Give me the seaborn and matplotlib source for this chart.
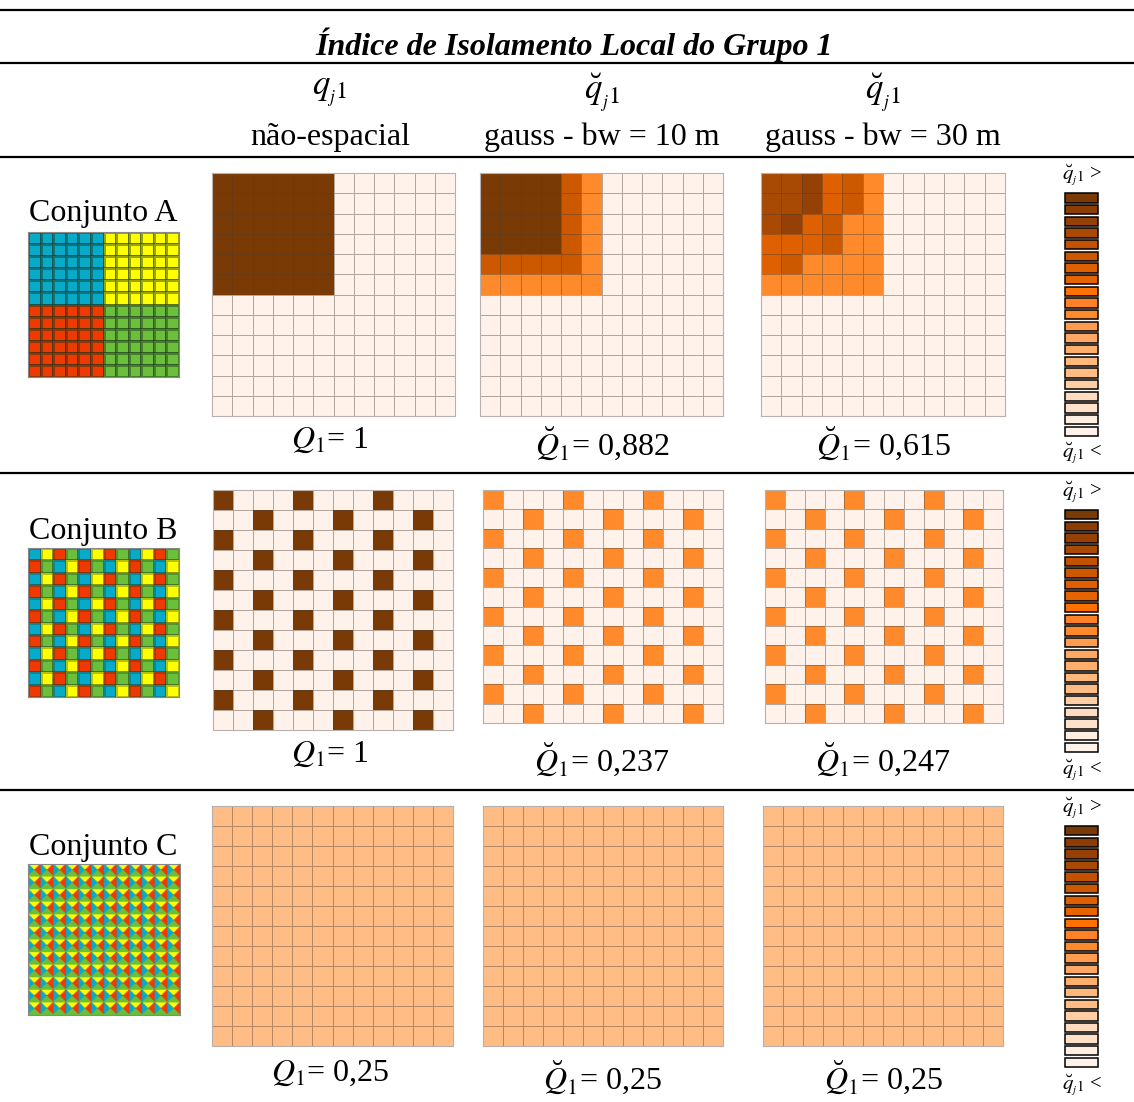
import numpy as np
import seaborn as sns
import matplotlib.pyplot as plt
from matplotlib.colors import ListedColormap
from matplotlib.lines import Line2D

# ---- data ----
# legend classes, from darkest (top) to lightest (bottom)
legend_colors = ['#7a3a06', '#8c3d04', '#954004', '#a94a04', '#c25202', '#cc5800',
                 '#df6000', '#e56400', '#ff7200', '#ff8228', '#ff8a2c', '#ff9c50',
                 '#ffa866', '#ffae6c', '#ffb87c', '#ffbc84', '#ffcea4', '#ffdcc0',
                 '#ffe0c8', '#ffeee2', '#fff2ea']

group_colors = ['#07aac8', '#ffff00', '#ee3a00', '#6bbf3a']  # grupos 1..4

set_names = ['Conjunto A', 'Conjunto B', 'Conjunto C']
col_titles = ['não-espacial', 'gauss - bw = 10 m', 'gauss - bw = 30 m']
col_symbols = [r'$q_{{}_{j}1}$', r'$\breve{q}_{{}_{j}1}$', r'$\breve{q}_{{}_{j}1}$']
q_labels = [['$Q_1$= 1', r'$\breve{Q}_1$= 0,882', r'$\breve{Q}_1$= 0,615'],
            ['$Q_1$= 1', r'$\breve{Q}_1$= 0,237', r'$\breve{Q}_1$= 0,247'],
            ['$Q_1$= 0,25', r'$\breve{Q}_1$= 0,25', r'$\breve{Q}_1$= 0,25']]

background = 0.02  # q_j1 fora do grupo 1 (12x12 celulas)

# conjunto A: bloco 6x6 do canto superior esquerdo
a_nonspatial = [[1.0] * 6 for _ in range(6)]
a_bw10 = [[0.96, 0.96, 0.96, 0.96, 0.74, 0.50],
          [0.96, 0.96, 0.96, 0.96, 0.74, 0.50],
          [0.96, 0.96, 0.96, 0.96, 0.74, 0.50],
          [0.96, 0.96, 0.96, 0.96, 0.74, 0.50],
          [0.74, 0.74, 0.74, 0.74, 0.74, 0.50],
          [0.50, 0.50, 0.50, 0.50, 0.50, 0.50]]
a_bw30 = [[0.83, 0.83, 0.88, 0.69, 0.74, 0.50],
          [0.83, 0.83, 0.88, 0.69, 0.74, 0.50],
          [0.83, 0.88, 0.69, 0.74, 0.50, 0.50],
          [0.69, 0.69, 0.69, 0.74, 0.50, 0.50],
          [0.69, 0.74, 0.50, 0.50, 0.50, 0.50],
          [0.50, 0.50, 0.50, 0.50, 0.50, 0.50]]

# conjunto B: linhas pares / impares
b_even = [1, 0, 0, 0, 1, 0, 0, 0, 1, 0, 0, 0]
b_odd = [0, 0, 1, 0, 0, 0, 1, 0, 0, 0, 1, 0]
b_levels = [1.0, 0.50, 0.50]

# conjunto C: valor constante
c_levels = [0.25, 0.25, 0.25]

# padroes dos conjuntos (codigo do grupo por celula)
pat_a_top = [0] * 6 + [1] * 6
pat_a_bot = [2] * 6 + [3] * 6
pat_b_r0 = [0, 1, 2, 3] * 3
pat_b_r1 = [2, 3, 0, 1] * 3


def block_grid(block):
    g = np.full((12, 12), background)
    b = np.array(block)
    g[:b.shape[0], :b.shape[1]] = b
    return g


def pattern_grid(level):
    rows = [b_even, b_odd] * 6
    g = np.array(rows, dtype=float)
    return np.where(g > 0, level, background)


grids = [[block_grid(a_nonspatial), block_grid(a_bw10), block_grid(a_bw30)],
         [pattern_grid(v) for v in b_levels],
         [np.full((12, 12), v) for v in c_levels]]

# ---- figure ----
sns.set_style('white')
plt.rcParams['font.family'] = ['Liberation Serif', 'DejaVu Serif']
plt.rcParams['mathtext.fontset'] = 'stix'
plt.rcParams['text.color'] = 'black'

W, H = 1134, 1102
fig = plt.figure(figsize=(W / 100, H / 100), dpi=100)


def px_axes(x0, x1, y0, y1):
    return fig.add_axes([x0 / W, 1 - y1 / H, (x1 - x0) / W, (y1 - y0) / H])


def fy(y):
    return 1 - y / H


cmap = ListedColormap(legend_colors[::-1])
line_col = (0.30, 0.24, 0.20, 0.42)
fs = 23

# horizontal rules
for y in [10, 63, 157, 473, 790]:
    fig.add_artist(Line2D([0, 1], [fy(y), fy(y)], color='black', lw=1.6,
                          transform=fig.transFigure))

fig.text(574 / W, fy(45), 'Índice de Isolamento Local do Grupo 1', ha='center', va='center',
         fontsize=23, fontweight='bold', fontstyle='italic')

col_cx = [330, 602, 883]
for cx, sym, title in zip(col_cx, col_symbols, col_titles):
    fig.text(cx / W, fy(93), sym, ha='center', va='center', fontsize=25)
    fig.text(cx / W, fy(137), title, ha='center', va='center', fontsize=fs)

panel_boxes = [[(212, 455, 173, 416), (480, 723, 173, 416), (761, 1005, 173, 416)],
               [(213, 453, 490, 730), (483, 723, 490, 723), (765, 1003, 490, 723)],
               [(212, 453, 806, 1046), (483, 723, 806, 1046), (763, 1003, 806, 1046)]]
label_y = [[440, 444, 444], [754, 760, 760], [1073, 1078, 1078]]
name_y = [213, 531, 847]
pattern_boxes = [(28, 179, 232, 377), (28, 179, 548, 697), (28, 180, 864, 1015)]
legend_boxes = [(1064, 1099, 192, 437), (1064, 1099, 509, 753), (1064, 1099, 825, 1068)]
legend_lbl_y = [(175, 453), (492, 770), (808, 1085)]

for r in range(3):
    # grids of local isolation
    for c in range(3):
        ax = px_axes(*panel_boxes[r][c])
        sns.heatmap(grids[r][c], ax=ax, cmap=cmap, vmin=0, vmax=1, cbar=False,
                    linewidths=0.7, linecolor=line_col, xticklabels=False, yticklabels=False)
        for s in ax.spines.values():
            s.set_visible(True)
            s.set_color('#b8b0ac')
            s.set_linewidth(0.8)
        fig.text(col_cx[c] / W, fy(label_y[r][c]), q_labels[r][c], ha='center', va='center',
                 fontsize=fs)

    # set name and pattern
    fig.text(103 / W, fy(name_y[r]), set_names[r], ha='center', va='center', fontsize=fs)
    ax = px_axes(*pattern_boxes[r])
    gcmap = ListedColormap(group_colors)
    if r == 0:
        pat = np.array([pat_a_top] * 6 + [pat_a_bot] * 6)
        sns.heatmap(pat, ax=ax, cmap=gcmap, vmin=-0.5, vmax=3.5, cbar=False,
                    linewidths=0.8, linecolor=(0.1, 0.2, 0.1, 0.45),
                    xticklabels=False, yticklabels=False)
    elif r == 1:
        pat = np.array([pat_b_r0, pat_b_r1] * 6)
        sns.heatmap(pat, ax=ax, cmap=gcmap, vmin=-0.5, vmax=3.5, cbar=False,
                    linewidths=0.8, linecolor=(0.1, 0.2, 0.1, 0.3),
                    xticklabels=False, yticklabels=False)
    else:
        n = 10
        i, j = np.mgrid[0:n, 0:n] + 0.5
        tile = np.where(i < j, np.where(i + j < n, 1, 2), np.where(i + j < n, 0, 3))
        pat = np.tile(tile, (12, 12))
        ax.imshow(pat, cmap=gcmap, vmin=-0.5, vmax=3.5, interpolation='bilinear',
                  aspect='auto')
        ax.set_xticks([])
        ax.set_yticks([])
    for s in ax.spines.values():
        s.set_visible(True)
        s.set_color('#888888')
        s.set_linewidth(0.8)

    # legend column
    ax = px_axes(*legend_boxes[r])
    pos = np.arange(len(legend_colors))
    ax.barh(pos, width=1, height=0.8, color=legend_colors, edgecolor='black', lw=1.1)
    ax.set_xlim(-0.03, 1.03)
    ax.set_ylim(len(legend_colors) - 0.5, -0.5)
    ax.axis('off')
    top_y, bot_y = legend_lbl_y[r]
    fig.text(1082 / W, fy(top_y), r'$\breve{q}_{{}_{j}1}$ >', ha='center', va='center', fontsize=15)
    fig.text(1082 / W, fy(bot_y), r'$\breve{q}_{{}_{j}1}$ <', ha='center', va='center', fontsize=15)

fig.savefig('out.png', dpi=100)
